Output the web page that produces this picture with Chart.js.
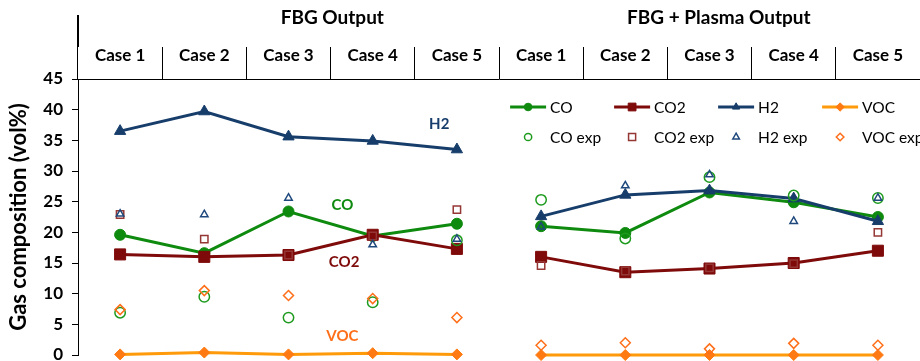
<!DOCTYPE html>
<html>
<head>
<meta charset="utf-8">
<script src="https://cdn.jsdelivr.net/npm/chart.js@4.4.1/dist/chart.umd.min.js"></script>
<style>
  html, body { margin: 0; padding: 0; background: #fff; }
  #wrap { width: 920px; height: 361px; position: relative; }
</style>
</head>
<body>
<div id="wrap"><canvas id="c" width="920" height="361"></canvas></div>
<script>
// Category axis: five cases for each configuration
const categories = ['Case 1', 'Case 2', 'Case 3', 'Case 4', 'Case 5',
                    'Case 1', 'Case 2', 'Case 3', 'Case 4', 'Case 5'];
const groupTitles = ['FBG Output', 'FBG + Plasma Output'];
const yTickValues = [0, 5, 10, 15, 20, 25, 30, 35, 40, 45];

// Model predictions (vol%)
const coFBG     = [19.6, 16.6, 23.4, 19.4, 21.4];
const coPlasma  = [21.0, 19.9, 26.5, 24.9, 22.5];
const co2FBG    = [16.4, 16.0, 16.3, 19.6, 17.3];
const co2Plasma = [16.0, 13.5, 14.1, 15.0, 17.0];
const h2FBG     = [36.5, 39.7, 35.6, 34.9, 33.5];
const h2Plasma  = [22.6, 26.1, 26.8, 25.5, 21.8];
const vocFBG    = [0.1, 0.4, 0.1, 0.3, 0.1];
const vocPlasma = [0.0, 0.0, 0.0, 0.0, 0.0];

// Experimental measurements (vol%)
const coExpFBG     = [6.9, 9.5, 6.1, 8.6, 18.7];
const coExpPlasma  = [25.3, 19.0, 29.0, 26.0, 25.6];
const co2ExpFBG    = [22.9, 18.9, 16.3, 19.4, 23.7];
const co2ExpPlasma = [14.6, 13.7, 14.2, 14.9, 20.0];
const h2ExpFBG     = [23.0, 22.9, 25.6, 18.0, 18.9];
const h2ExpPlasma  = [20.9, 27.6, 29.4, 21.8, 25.6];
const vocExpFBG    = [7.4, 10.5, 9.7, 9.2, 6.1];
const vocExpPlasma = [1.6, 2.0, 1.0, 1.9, 1.6];

const FONT = 'Lato, "Open Sans", sans-serif';
Chart.defaults.font.family = FONT;

const C = {
  co:  '#0E8A0E', coExp:  '#1E9B1E',
  co2: '#7F0A0A', co2Exp: '#953735',
  h2:  '#173D6B', h2Exp:  '#1F497D',
  voc: '#FF9A0A', vocMk:  '#FF7A12', vocExp: '#FF6F1A'
};

// model series: continuous line within each configuration, broken between them
function modelSet(label, fbg, plasma, line, marker, style, radius, order) {
  const breakAt = fbg.length - 1;
  return {
    label, data: fbg.concat(plasma), order,
    borderColor: line, backgroundColor: marker, borderWidth: 3,
    pointStyle: style, pointRadius: radius, pointHoverRadius: radius,
    pointBackgroundColor: marker, pointBorderColor: marker, pointBorderWidth: 1,
    tension: 0, clip: false, showLine: true,
    segment: { borderColor: ctx => ctx.p0DataIndex === breakAt ? 'rgba(0,0,0,0)' : undefined }
  };
}
function expSet(label, fbg, plasma, color, style, radius, order) {
  return {
    label, data: fbg.concat(plasma), order, showLine: false,
    borderColor: color, backgroundColor: 'rgba(0,0,0,0)',
    pointStyle: style, pointRadius: radius, pointHoverRadius: radius,
    pointBackgroundColor: 'rgba(0,0,0,0)', pointBorderColor: color, pointBorderWidth: 1.5,
    clip: false
  };
}

const datasets = [
  modelSet('CO',  coFBG,  coPlasma,  C.co,  C.co,    'circle',   5.5, 8),
  modelSet('CO2', co2FBG, co2Plasma, C.co2, C.co2,   'rect',     7.8, 7),
  modelSet('H2',  h2FBG,  h2Plasma,  C.h2,  C.h2,    'triangle', 6.5, 6),
  modelSet('VOC', vocFBG, vocPlasma, C.voc, C.vocMk, 'rectRot',  5.5, 5),
  expSet('CO exp',  coExpFBG,  coExpPlasma,  C.coExp,  'circle',   5.2, 4),
  expSet('CO2 exp', co2ExpFBG, co2ExpPlasma, C.co2Exp, 'rect',     5.2, 3),
  expSet('H2 exp',  h2ExpFBG,  h2ExpPlasma,  C.h2Exp,  'triangle', 4.3, 2),
  expSet('VOC exp', vocExpFBG, vocExpPlasma, C.vocExp, 'rectRot',  5.0, 1)
];

// simple marker painter for the legend swatches
function paintMarker(ctx, style, x, y, r, fill, stroke, lw) {
  ctx.save();
  ctx.beginPath();
  if (style === 'circle') {
    ctx.arc(x, y, r, 0, Math.PI * 2);
  } else if (style === 'rect') {
    const s = r * Math.SQRT1_2;
    ctx.rect(x - s, y - s, 2 * s, 2 * s);
  } else if (style === 'triangle') {
    for (let k = 0; k < 3; k++) {
      const a = k * 2 * Math.PI / 3;
      const px = x + Math.sin(a) * r, py = y - Math.cos(a) * r;
      if (k === 0) ctx.moveTo(px, py); else ctx.lineTo(px, py);
    }
    ctx.closePath();
  } else if (style === 'rectRot') {
    ctx.moveTo(x, y - r); ctx.lineTo(x + r, y); ctx.lineTo(x, y + r); ctx.lineTo(x - r, y);
    ctx.closePath();
  }
  if (fill) { ctx.fillStyle = fill; ctx.fill(); }
  if (stroke && lw > 0) { ctx.strokeStyle = stroke; ctx.lineWidth = lw; ctx.stroke(); }
  ctx.restore();
}

// in-plot series names, anchored in data space (category index, value)
const seriesTags = [
  { text: 'H2',  idx: 3.79, val: 37.6, color: C.h2 },
  { text: 'CO',  idx: 2.64, val: 24.5, color: C.co },
  { text: 'CO2', idx: 2.66, val: 15.2, color: C.co2 },
  { text: 'VOC', idx: 2.64, val: 3.1,  color: C.vocExp }
];

const decor = {
  id: 'decor',
  afterDatasetsDraw(chart) {
    const { ctx, chartArea, scales: { x, y } } = chart;
    ctx.save();
    // series tags
    ctx.font = 'bold 15px ' + FONT;
    ctx.textAlign = 'center';
    ctx.textBaseline = 'middle';
    seriesTags.forEach(t => {
      ctx.fillStyle = t.color;
      ctx.fillText(t.text, x.getPixelForValue(t.idx), y.getPixelForValue(t.val));
    });

    // legend: model rows then experimental rows
    const base = x.getPixelForValue(5) - 31;
    const colStep = 104;
    const row1 = chartArea.top + 28, row2 = chartArea.top + 58;
    ctx.font = '15.5px ' + FONT;
    ctx.textAlign = 'left';
    ctx.fillStyle = '#000';
    const ds = chart.data.datasets;
    for (let i = 0; i < 4; i++) {
      const m = ds[i], e = ds[i + 4];
      const x0 = base + i * colStep;
      ctx.save();
      ctx.strokeStyle = m.borderColor; ctx.lineWidth = 3;
      ctx.beginPath(); ctx.moveTo(x0, row1); ctx.lineTo(x0 + 36, row1); ctx.stroke();
      ctx.restore();
      const lr = m.pointStyle === 'rect' ? 5.5 : (m.pointStyle === 'circle' ? 3.8 : 4.2);
      paintMarker(ctx, m.pointStyle, x0 + 18, row1, lr, m.pointBackgroundColor, m.pointBorderColor, 1);
      const er = e.pointStyle === 'rect' ? 5 : (e.pointStyle === 'circle' ? 3.6 : 3.8);
      paintMarker(ctx, e.pointStyle, x0 + 18, row2, er, null, e.pointBorderColor, 1.5);
      ctx.fillStyle = '#000';
      ctx.fillText(m.label, x0 + 40, row1 + 1);
      ctx.fillText(e.label, x0 + 40, row2 + 1);
    }
    ctx.restore();
  },
  afterDraw(chart) {
    const { ctx, chartArea, scales: { x } } = chart;
    ctx.save();
    // configuration titles over the case header
    ctx.font = 'bold 19px ' + FONT;
    ctx.fillStyle = '#000';
    ctx.textAlign = 'center';
    ctx.textBaseline = 'middle';
    ctx.fillText(groupTitles[0], x.getPixelForValue(2.52), 18);
    ctx.fillText(groupTitles[1], x.getPixelForValue(7.11), 18);
    // spine continues up beside the titles
    ctx.strokeStyle = '#000';
    ctx.lineWidth = 2;
    ctx.beginPath();
    ctx.moveTo(chartArea.left, 15);
    ctx.lineTo(chartArea.left, chartArea.top - 32);
    ctx.stroke();
    ctx.restore();
  }
};

new Chart(document.getElementById('c'), {
  type: 'line',
  data: { labels: categories, datasets },
  plugins: [decor],
  options: {
    responsive: false,
    animation: false,
    devicePixelRatio: 1,
    layout: { autoPadding: false, padding: { top: 47, left: 0, right: 0, bottom: 6 } },
    plugins: { legend: { display: false }, tooltip: { enabled: false } },
    scales: {
      x: {
        type: 'category',
        position: 'top',
        offset: true,
        grid: { offset: true, drawOnChartArea: false, drawTicks: true, tickLength: 32, color: '#000', lineWidth: 1 },
        border: { display: true, color: '#000', width: 1 },
        ticks: { autoSkip: false, maxRotation: 0, padding: -19, color: '#000',
                 font: { family: FONT, weight: 'bold', size: 17 } },
        afterFit: s => { s.height = 32; s.paddingLeft = 0; s.paddingRight = 0; }
      },
      y: {
        min: 0, max: 45,
        afterBuildTicks: s => { s.ticks = yTickValues.map(v => ({ value: v })); },
        grid: { drawOnChartArea: false, drawTicks: true, tickLength: 6, color: '#000' },
        border: { display: true, color: '#000', width: 1 },
        ticks: { padding: 9, color: '#000', font: { family: FONT, weight: 'bold', size: 17 } },
        title: { display: true, text: 'Gas composition (vol%)', color: '#000',
                 font: { family: FONT, weight: 'bold', size: 22 }, padding: { top: 6, bottom: 0 } },
        afterFit: s => { s.width = 78; s.paddingTop = 0; s.paddingBottom = 0; }
      }
    }
  }
});
</script>
</body>
</html>
